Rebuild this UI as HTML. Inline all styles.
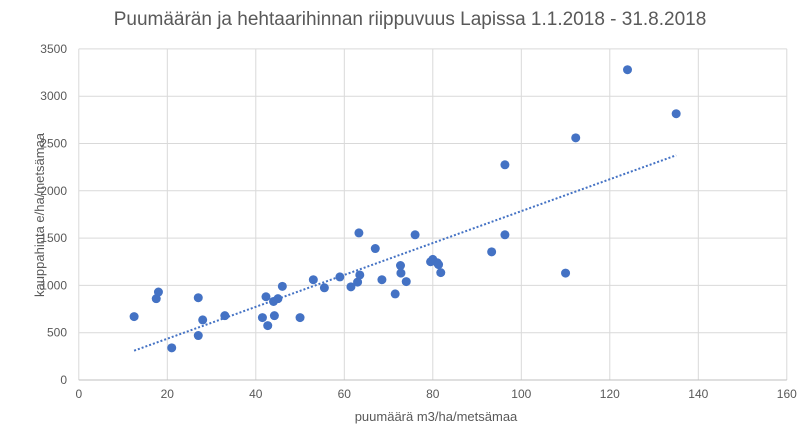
<!DOCTYPE html>
<html><head><meta charset="utf-8"><style>
body{margin:0;background:#fff;font-family:"Liberation Sans",sans-serif}
svg text{font-family:"Liberation Sans",sans-serif}
</style></head><body>
<svg width="811" height="443" viewBox="0 0 811 443">
<rect width="811" height="443" fill="#fff"/>
<text x="410" y="25" text-anchor="middle" font-size="19" fill="#595959">Puumäärän ja hehtaarihinnan riippuvuus Lapissa 1.1.2018 - 31.8.2018</text>
<g id="grid"></g><g id="ticks"></g><g id="marks"></g>
<text x="436" y="421" text-anchor="middle" font-size="13" fill="#595959">puumäärä m3/ha/metsämaa</text>
<text transform="translate(44,215) rotate(-90)" text-anchor="middle" font-size="13" fill="#595959">kauppahinta e/ha/metsämaa</text>
</svg>
<script>
const xTicks=[0,20,40,60,80,100,120,140,160];
const yTicks=[0,500,1000,1500,2000,2500,3000,3500];
const xVals=[12.5,17.5,18,21,27,27,28,33,41.5,42.3,42.7,44,44.2,45,46,50,53,55.5,59,61.5,63,63.3,63.5,67,68.5,71.5,72.7,72.8,74,76,79.5,80,81,81.3,81.8,93.3,96.3,96.3,110,112.3,124,135];
const yVals=[670,860,930,340,870,470,635,680,660,880,575,830,680,860,990,660,1060,975,1090,985,1035,1555,1110,1390,1060,910,1210,1130,1040,1535,1250,1275,1240,1220,1135,1355,2275,1535,1130,2560,3280,2815];
const trendX=[12.5,135];
const trendY=[310,2375];
const NS="http://www.w3.org/2000/svg";
const X=v=>78.8+v*(88.5/20);
const Y=v=>380-v*(47.3/500);
function mk(t,a,p){const e=document.createElementNS(NS,t);for(const k in a)e.setAttribute(k,a[k]);p.appendChild(e);return e;}
const grid=document.getElementById('grid'),ticks=document.getElementById('ticks'),marks=document.getElementById('marks');
xTicks.forEach(v=>{
 const l=mk('line',{x1:X(v),x2:X(v),y1:Y(0),y2:Y(3500),stroke:'#d9d9d9','stroke-width':1},grid);
 
 
 const t=mk('text',{x:X(v),y:398,'text-anchor':'middle','font-size':12,fill:'#595959'},ticks);
 t.textContent=v;
 
 
});
yTicks.forEach(v=>{
 const l=mk('line',{x1:X(0),x2:X(160),y1:Y(v),y2:Y(v),stroke:v===0?'#bfbfbf':'#d9d9d9','stroke-width':1},grid);
 
 
 const t=mk('text',{x:67,y:Y(v)+4,'text-anchor':'end','font-size':12,fill:'#595959'},ticks);
 t.textContent=v;
 
 
});
xVals.forEach((v,i)=>{
 const c=mk('circle',{cx:X(v),cy:Y(yVals[i]),r:4.5,fill:'#4472c4'},marks);
 
 
});
const tl=mk('line',{x1:X(trendX[0]),y1:Y(trendY[0]),x2:X(trendX[1]),y2:Y(trendY[1]),stroke:'#4472c4','stroke-width':2,'stroke-dasharray':'2 2'},marks);


</script>
</body></html>
